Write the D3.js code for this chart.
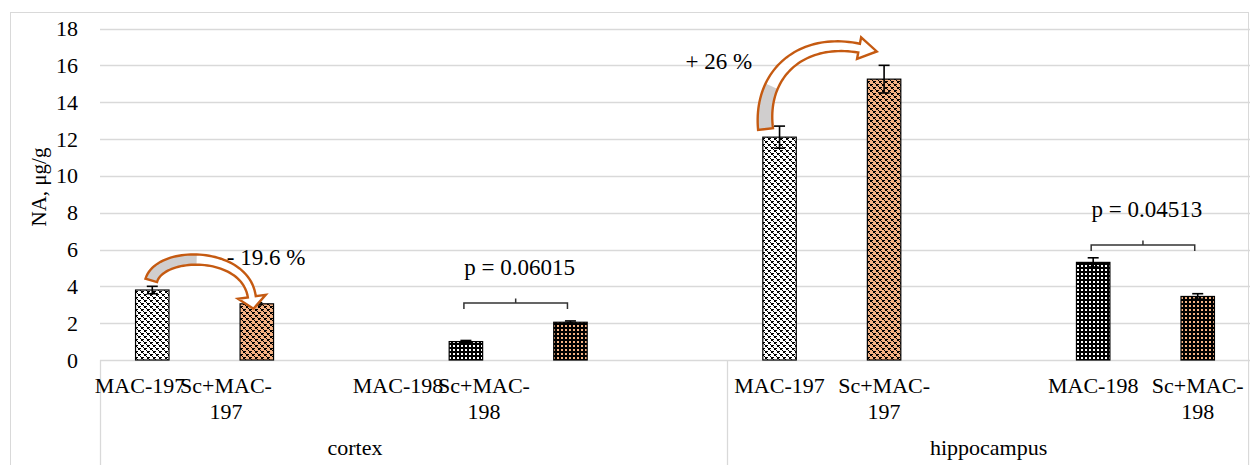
<!DOCTYPE html>
<html>
<head>
<meta charset="utf-8">
<script src="https://cdn.jsdelivr.net/npm/d3@7"></script>
</head>
<body style="margin:0">
<svg id="s" width="1250" height="465"></svg>
<script>
// ---- data ----
const groups = ["cortex", "hippocampus"];
const slotGroup = ["cortex", "cortex", "cortex", "cortex", "cortex", "cortex",
                   "hippocampus", "hippocampus", "hippocampus", "hippocampus", "hippocampus"];
const categoryLines = [["MAC-197"], ["Sc+MAC-", "197"], [], ["MAC-198"], ["Sc+MAC-", "198"], [],
                       ["MAC-197"], ["Sc+MAC-", "197"], [], ["MAC-198"], ["Sc+MAC-", "198"]];
const values = [3.8, 3.05, null, 1.0, 2.05, null, 12.1, 15.25, null, 5.3, 3.45];
const errors = [0.2, 0.06, null, 0.06, 0.07, null, 0.6, 0.75, null, 0.25, 0.15];
const fills  = ["checkWhite", "checkOrange", null, "dotBlack", "dotOrange", null,
                "checkWhite", "checkOrange", null, "dotBlack", "dotOrange"];
const yTicks = [0, 2, 4, 6, 8, 10, 12, 14, 16, 18];
const yTitle = "NA, \u03bcg/g";

// change annotations (curved arrows) and p-value brackets
const changeFrom   = [0, 6];
const changeTo     = [1, 7];
const changeLabels = ["- 19.6 %", "+ 26 %"];
const pairFrom   = [3, 9];
const pairTo     = [4, 10];
const pairLevel  = [3.1, 6.25];
const pairLabels = ["p = 0.06015", "p = 0.04513"];

// ---- layout ----
const svg = d3.select("#s");
const W = 1250, H = 465;
const plot = { left: 100, right: 1250, top: 28.5, bottom: 360 };
const grid = "#d9d9d9";
const orange = "#F4B183";
const arrowLine = "#C55A11";

function label(sel, size) {
  return sel.style("font-family", "Tinos").style("font-size", size + "px");
}

const slotIds = values.map((_, i) => i);
const x = d3.scaleBand().domain(slotIds).range([plot.left, plot.right]).padding(0);
const y = d3.scaleLinear().domain([0, 18]).range([plot.bottom, plot.top]);
const barW = x.bandwidth() * 0.32;
const cx = i => x(i) + x.bandwidth() / 2;

// category label placement per group
const cortexIds = slotIds.filter(i => slotGroup[i] === "cortex");
const hippoIds = slotIds.filter(i => slotGroup[i] === "hippocampus");
const xLabCortex = d3.scaleBand().domain(cortexIds).range([97, 613]);
const xLabHippo = d3.scaleBand().domain(hippoIds).range([x(hippoIds[0]), plot.right]);
const labelX = i => slotGroup[i] === "cortex"
  ? xLabCortex(i) + xLabCortex.bandwidth() / 2
  : xLabHippo(i) + xLabHippo.bandwidth() / 2;
const groupCenter = g => g === "cortex"
  ? (xLabCortex.range()[0] + xLabCortex.range()[1]) / 2
  : (xLabHippo.range()[0] + xLabHippo.range()[1]) / 2;

// ---- fill patterns ----
const defs = svg.append("defs");
function pattern(id, size, bg, fg, cells) {
  const p = defs.append("pattern").attr("id", id).attr("patternUnits", "userSpaceOnUse")
    .attr("width", size).attr("height", size);
  p.append("rect").attr("width", size).attr("height", size).attr("fill", bg);
  cells.forEach(c => p.append("rect").attr("x", c[0]).attr("y", c[1])
    .attr("width", c[2]).attr("height", c[3]).attr("fill", fg).attr("shape-rendering", "crispEdges"));
}
const diamond = [[0, 0, 2, 2], [3, 3, 2, 2], [2, 2, 1, 1], [5, 5, 1, 1], [2, 0, 1, 1], [5, 3, 1, 1]];
pattern("checkWhite", 6, "#ffffff", "#000000", diamond);
pattern("checkOrange", 6, orange, "#000000", diamond);
pattern("dotBlack", 4, "#000000", "#ffffff", [[1, 1, 2, 2]]);
pattern("dotOrange", 4, "#000000", orange, [[1, 1, 2, 2]]);

// ---- frame ----
svg.append("rect").attr("x", 10.5).attr("y", 12.5).attr("width", 1238).attr("height", 470)
  .attr("fill", "none").attr("stroke", grid);

// gridlines
svg.append("g").selectAll("line").data(yTicks).join("line")
  .attr("x1", plot.left).attr("x2", plot.right)
  .attr("y1", d => Math.round(y(d)) + 0.5).attr("y2", d => Math.round(y(d)) + 0.5)
  .attr("stroke", grid).attr("stroke-width", 1.3);

// y tick labels
yTicks.forEach(d => {
  label(svg.append("text"), 22)
    .attr("x", 78).attr("y", y(d) + 7.5).attr("text-anchor", "end").text(d);
});

// y title
label(svg.append("text"), 21).attr("transform", "translate(46,187) rotate(-90)")
  .attr("text-anchor", "middle").text(yTitle);

// category axis dividers
const dividers = [plot.left, x(hippoIds[0]), plot.right - 0.5];
svg.append("g").selectAll("line").data(dividers).join("line")
  .attr("x1", d => Math.round(d) + 0.5).attr("x2", d => Math.round(d) + 0.5)
  .attr("y1", plot.bottom).attr("y2", H)
  .attr("stroke", grid).attr("stroke-width", 1.3);

// category labels
slotIds.forEach(i => {
  categoryLines[i].forEach((line, k) => {
    label(svg.append("text"), 22).attr("text-anchor", "middle")
      .attr("x", labelX(i)).attr("y", 393 + k * 26).text(line);
  });
});
groups.forEach(g => {
  label(svg.append("text"), 22).attr("text-anchor", "middle")
    .attr("x", groupCenter(g)).attr("y", 455).text(g);
});

// ---- bars ----
const barIds = slotIds.filter(i => values[i] !== null);
svg.append("g").selectAll("rect").data(barIds).join("rect")
  .attr("x", i => cx(i) - barW / 2).attr("y", i => y(values[i]))
  .attr("width", barW).attr("height", i => y(0) - y(values[i]))
  .attr("fill", i => `url(#${fills[i]})`)
  .attr("stroke", "#000").attr("stroke-width", 1.2);

// error bars
const eb = svg.append("g").attr("stroke", "#000").attr("stroke-width", 1.6);
barIds.forEach(i => {
  const top = y(values[i] + errors[i]), bot = y(values[i] - errors[i]);
  eb.append("line").attr("x1", cx(i)).attr("x2", cx(i)).attr("y1", top).attr("y2", bot);
  eb.append("line").attr("x1", cx(i) - 5.5).attr("x2", cx(i) + 5.5).attr("y1", top).attr("y2", top);
  eb.append("line").attr("x1", cx(i) - 5.5).attr("x2", cx(i) + 5.5).attr("y1", bot).attr("y2", bot);
});

// ---- p-value brackets ----
const br = svg.append("g");
pairFrom.forEach((a, k) => {
  const b = pairTo[k];
  const yy = y(pairLevel[k]);
  const xa = cx(a) - 2, xb = cx(b) - 3;
  const xm = (xa + xb) / 2;
  br.append("path")
    .attr("d", `M${xa},${yy + 6} L${xa},${yy} L${xb},${yy} L${xb},${yy + 6} M${xm},${yy} L${xm},${yy - 4.5}`)
    .attr("fill", "none").attr("stroke", "#333").attr("stroke-width", 1.5);
  label(svg.append("text"), 23).attr("x", xm + 4).attr("y", yy - 28)
    .attr("text-anchor", "middle").text(pairLabels[k]);
});

// ---- curved change arrows ----
// shape settings for each arrow (pixel offsets from the bars they connect)
const arrowShape = [
  { tail: [-1, -6], c1: [9, -30], c2: [94, -30], neck: [-5, -7], headLen: 12, w0: 6, w1: 4, wh: 14, gray: 0.45,
    labelAt: "to", label: [-30, -39] },
  { tail: [-14, 3], c1: [-6, -55], c2: [35, -92], neck: [-25, -31], headLen: 18, w0: 7.5, w1: 4.5, wh: 11, gray: 0.3,
    labelAt: "from", label: [-94, -60] }
];
function bez(p, t) {
  const u = 1 - t;
  return [u*u*u*p[0][0] + 3*u*u*t*p[1][0] + 3*u*t*t*p[2][0] + t*t*t*p[3][0],
          u*u*u*p[0][1] + 3*u*u*t*p[1][1] + 3*u*t*t*p[2][1] + t*t*t*p[3][1]];
}
function bezD(p, t) {
  const u = 1 - t;
  return [3*u*u*(p[1][0]-p[0][0]) + 6*u*t*(p[2][0]-p[1][0]) + 3*t*t*(p[3][0]-p[2][0]),
          3*u*u*(p[1][1]-p[0][1]) + 6*u*t*(p[2][1]-p[1][1]) + 3*t*t*(p[3][1]-p[2][1])];
}
const ar = svg.append("g");
changeFrom.forEach((a, k) => {
  const b = changeTo[k];
  const s = arrowShape[k];
  const ax = cx(a), ay = y(values[a] + errors[a]);
  const bx = cx(b), by = y(values[b]);
  const T = [ax + s.tail[0], ay + s.tail[1]];
  const P = [T, [T[0] + s.c1[0], T[1] + s.c1[1]], [T[0] + s.c2[0], T[1] + s.c2[1]],
             [bx + s.neck[0], by + s.neck[1]]];
  const N = 48;
  const left = [], right = [];
  for (let j = 0; j <= N; j++) {
    const t = j / N;
    const pt = bez(P, t), d = bezD(P, t);
    const len = Math.hypot(d[0], d[1]);
    const nx = -d[1] / len, ny = d[0] / len;
    const w = s.w0 + (s.w1 - s.w0) * t;
    left.push([pt[0] + nx * w, pt[1] + ny * w]);
    right.push([pt[0] - nx * w, pt[1] - ny * w]);
  }
  const end = bez(P, 1), dEnd = bezD(P, 1);
  const le = Math.hypot(dEnd[0], dEnd[1]);
  const ux = dEnd[0] / le, uy = dEnd[1] / le, nx = -uy, ny = ux;
  const tip = [end[0] + ux * s.headLen, end[1] + uy * s.headLen];
  const barbL = [end[0] + nx * s.wh, end[1] + ny * s.wh];
  const barbR = [end[0] - nx * s.wh, end[1] - ny * s.wh];
  const outline = left.concat([barbL, tip, barbR]).concat(right.slice().reverse());
  const line = d3.line();
  ar.append("path").attr("d", line(outline) + "Z").attr("fill", "#fff");
  const g = Math.round(s.gray * N);
  const grayPoly = left.slice(0, g + 1).concat(right.slice(0, g + 1).reverse());
  ar.append("path").attr("d", line(grayPoly) + "Z").attr("fill", "#d0cece");
  ar.append("path").attr("d", line(outline) + "Z").attr("fill", "none")
    .attr("stroke", arrowLine).attr("stroke-width", 2.4).attr("stroke-linejoin", "miter");
  const lx = (s.labelAt === "to" ? bx : ax) + s.label[0];
  const ly = (s.labelAt === "to" ? by : T[1]) + s.label[1];
  label(svg.append("text"), 23).attr("x", lx).attr("y", ly).text(changeLabels[k]);
});
</script>
</body>
</html>
